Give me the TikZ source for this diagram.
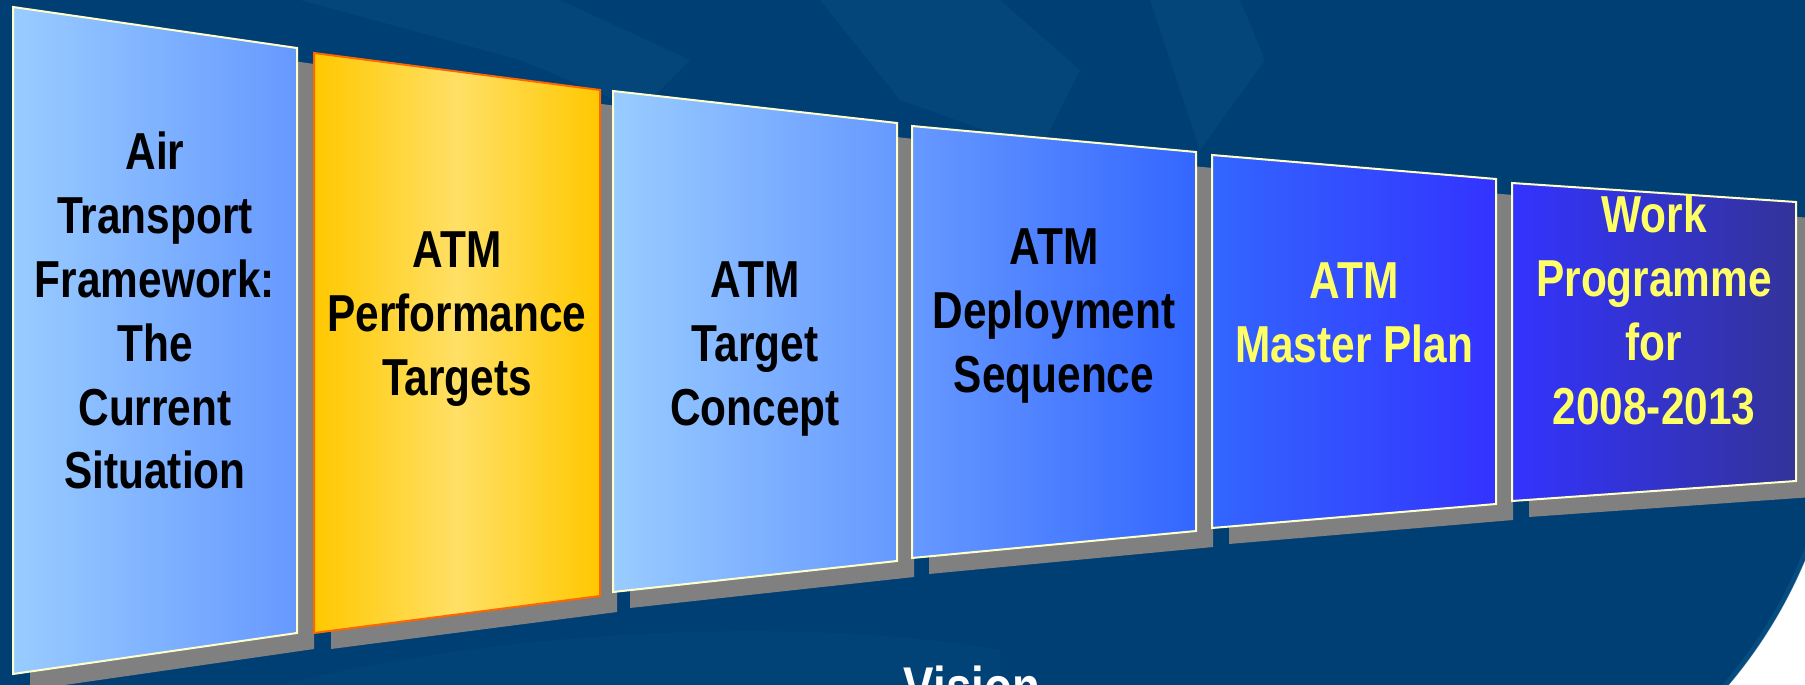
\documentclass[tikz,border=0pt]{standalone}
\usepackage{fontspec}
\newfontfamily\pfont[FakeStretch=0.815]{Liberation Sans Bold}
\definecolor{bgnavy}{HTML}{003F73}
\definecolor{swirlc}{HTML}{0A5284}
\definecolor{shadowgray}{HTML}{808080}
\definecolor{bordery}{HTML}{FFFFCC}
\definecolor{borderor}{HTML}{FF6600}
\definecolor{bA}{HTML}{99CCFF}
\definecolor{bB}{HTML}{6699FF}
\definecolor{bC}{HTML}{3366FF}
\definecolor{bD}{HTML}{3333FF}
\definecolor{bE}{HTML}{333399}
\definecolor{gA}{HTML}{FFC800}
\definecolor{gB}{HTML}{FFE066}
\definecolor{txty}{HTML}{FFFF66}
\begin{document}
\begin{tikzpicture}[x=1pt,y=-1pt,
  shadowbox/.style={fill=shadowgray},
  panelbox/.style={draw=bordery, line width=2pt},
  swirl/.style={fill=swirlc, opacity=0.4},
  ptext/.style={inner sep=0pt, anchor=base, font=\pfont\fontsize{52}{64}\selectfont},
]
\useasboundingbox (0,0) rectangle (1805,685);
\clip (0,0) rectangle (1805,685);
% background
\fill[bgnavy] (0,0) rectangle (1805,685);
\fill[swirl] (300,0) -- (560,0) -- (690,60) -- (640,110) -- (520,60) -- cycle;
\fill[swirl] (820,0) -- (1000,0) -- (1080,70) -- (1040,150) -- (900,100) -- cycle;
\fill[swirl] (1150,0) -- (1240,0) -- (1265,60) -- (1200,150) -- cycle;
\fill[swirl, opacity=0.25] (280,685) .. controls (500,630) and (800,615) .. (1000,650) -- (1000,685) -- cycle;
% white arc corner
\begin{scope}
  \clip (1600,540) rectangle (1805,685);
  \fill[white] (1600,540) rectangle (1805,685);
  \fill[bgnavy] (1360,374) circle[radius=482pt];
  \draw[swirlc, line width=5pt, opacity=0.7] (1360,374) circle[radius=480pt];
\end{scope}
% shadows
\begin{scope}[shift={(17,16)}]
  \fill[shadowbox] (13,7) -- (297,48) -- (297,633) -- (13,674) -- cycle;
  \fill[shadowbox] (314,53) -- (600,90) -- (600,596) -- (314,633) -- cycle;
  \fill[shadowbox] (613,91) -- (897,123) -- (897,561) -- (613,592) -- cycle;
  \fill[shadowbox] (912,126) -- (1196,152) -- (1196,531) -- (912,558) -- cycle;
  \fill[shadowbox] (1212,155) -- (1496,179) -- (1496,504) -- (1212,528) -- cycle;
  \fill[shadowbox] (1512,183) -- (1796,202) -- (1796,481) -- (1512,501) -- cycle;
\end{scope}
% panels
\draw[panelbox, left color=bA, right color=bB] (13,7) -- (297,48) -- (297,633) -- (13,674) -- cycle;
\draw[panelbox, draw=borderor, left color=gA, right color=gA, middle color=gB] (314,53) -- (600,90) -- (600,596) -- (314,633) -- cycle;
\draw[panelbox, left color=bA, right color=bB] (613,91) -- (897,123) -- (897,561) -- (613,592) -- cycle;
\draw[panelbox, left color=bB, right color=bC] (912,126) -- (1196,152) -- (1196,531) -- (912,558) -- cycle;
\draw[panelbox, left color=bC, right color=bD] (1212,155) -- (1496,179) -- (1496,504) -- (1212,528) -- cycle;
\draw[panelbox, left color=bD, right color=bE] (1512,183) -- (1796,202) -- (1796,481) -- (1512,501) -- cycle;
% texts
\node[ptext] (t1) at (155,169) {\begin{tabular}[t]{@{}c@{}}Air\\Transport\\Framework:\\The\\Current\\Situation\end{tabular}};
\node[ptext] (t2) at (457,267) {\begin{tabular}[t]{@{}c@{}}ATM\\Performance\\Targets\end{tabular}};
\node[ptext] (t3) at (755,297) {\begin{tabular}[t]{@{}c@{}}ATM\\Target\\Concept\end{tabular}};
\node[ptext] (t4) at (1054,264) {\begin{tabular}[t]{@{}c@{}}ATM\\Deployment\\Sequence\end{tabular}};
\node[ptext, text=txty] (t5) at (1354,298) {\begin{tabular}[t]{@{}c@{}}ATM\\Master Plan\end{tabular}};
\node[ptext, text=txty] (t6) at (1654,232) {\begin{tabular}[t]{@{}c@{}}Work\\Programme\\for\\2008-2013\end{tabular}};
\node[ptext, text=white, font=\pfont\fontsize{56}{64}\selectfont] (vision) at (972,706) {Vision};
\end{tikzpicture}
\end{document}
